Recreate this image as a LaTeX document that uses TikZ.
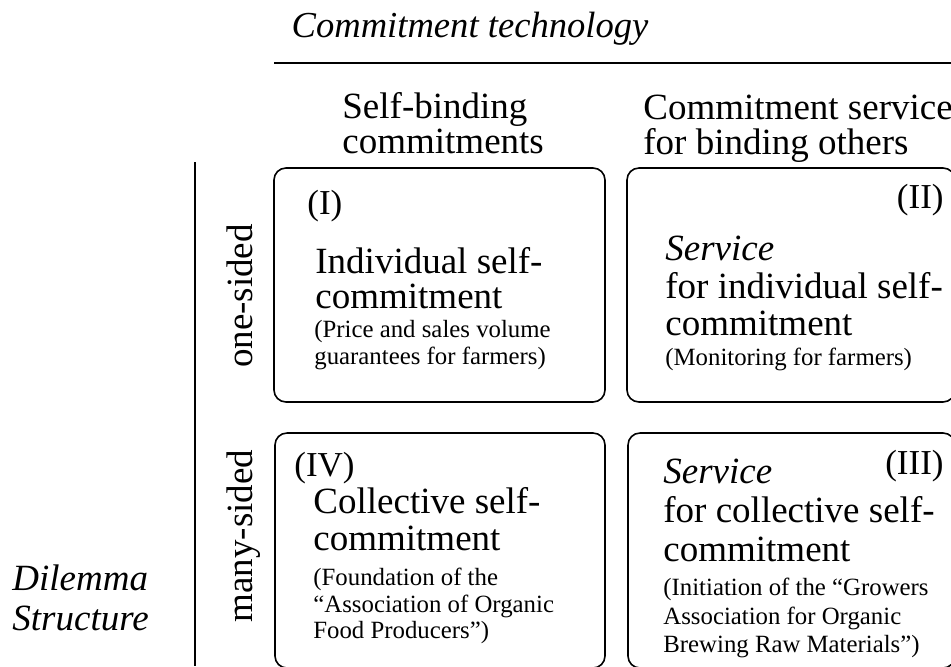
\documentclass[tikz,border=0pt]{standalone}
\usepackage{fontspec}
\setmainfont{Liberation Serif}

\tikzset{
  big/.style={font=\fontsize{18.5}{20}\selectfont, inner sep=0pt, anchor=base west},
  small/.style={font=\fontsize{12.4}{14}\selectfont, inner sep=0pt, anchor=base west},
  num/.style={font=\fontsize{17.5}{20}\selectfont, inner sep=0pt},
  quad/.style={draw, line width=0.8pt, rounded corners=6pt},
  axis/.style={draw, line width=0.9pt},
}

\begin{document}
\begin{tikzpicture}[x=0.5pt,y=-0.5pt]
    \useasboundingbox (0,0) rectangle (951,666);

    % axes
    \node[big, anchor=base, font=\fontsize{18.3}{20}\selectfont\itshape] (tech) at (470,37) {Commitment technology};
    \coordinate (hstart) at (274,63);
    \coordinate (hend) at (951,63);
    \path[axis] (hstart) -- (hend);
    \coordinate (vstart) at (195,162);
    \coordinate (vend) at (195,666);
    \path[axis] (vstart) -- (vend);

    \node[big] (self1) at (342,118) {Self-binding};
    \node[big] (self2) at (342,153) {commitments};
    \node[big] (serv1) at (643,119) {Commitment service};
    \node[big] (serv2) at (643,154) {for binding others};

    \node[big, anchor=base, rotate=90] (one) at (252,296) {one-sided};
    \node[big, anchor=base, rotate=90] (many) at (252,536) {many-sided};
    \node[big, font=\fontsize{18.5}{20}\selectfont\itshape] (dil1) at (12,590) {Dilemma};
    \node[big, font=\fontsize{18.5}{20}\selectfont\itshape] (dil2) at (12,630) {Structure};

    % the four fields
    \draw[quad] (274,168) rectangle (605,402);
    \draw[quad] (627,168) rectangle (955,402);
    \draw[quad] (275,433) rectangle (605,668);
    \draw[quad] (628,433) rectangle (955,668);

    % (I)
    \node[num, anchor=base west] (n1) at (307,214) {(I)};
    \node[big] (a1) at (315,273) {Individual self-};
    \node[big] (a2) at (315,308) {commitment};
    \node[small] (a3) at (314,337) {(Price and sales volume};
    \node[small] (a4) at (314,364) {guarantees for farmers)};

    % (II)
    \node[num, anchor=base east] (n2) at (944,208) {(II)};
    \node[big, font=\fontsize{18.5}{20}\selectfont\itshape] (b1) at (665,260) {Service};
    \node[big] (b2) at (665,298) {for individual self-};
    \node[big] (b3) at (665,335) {commitment};
    \node[small] (b4) at (665,365) {(Monitoring for farmers)};

    % (III)
    \node[num, anchor=base east] (n3) at (944,474) {(III)};
    \node[big, font=\fontsize{18.5}{20}\selectfont\itshape] (c1) at (663,483) {Service};
    \node[big] (c2) at (663,522) {for collective self-};
    \node[big] (c3) at (663,561) {commitment};
    \node[small] (c4) at (663,595) {(Initiation of the “Growers};
    \node[small] (c5) at (663,624) {Association for Organic};
    \node[small] (c6) at (663,652) {Brewing Raw Materials”)};

    % (IV)
    \node[num, anchor=base west] (n4) at (294,476) {(IV)};
    \node[big] (d1) at (313,513) {Collective self-};
    \node[big] (d2) at (313,550) {commitment};
    \node[small] (d3) at (313,585) {(Foundation of the};
    \node[small] (d4) at (313,612) {“Association of Organic};
    \node[small] (d5) at (313,638) {Food Producers”)};
\end{tikzpicture}
\end{document}
